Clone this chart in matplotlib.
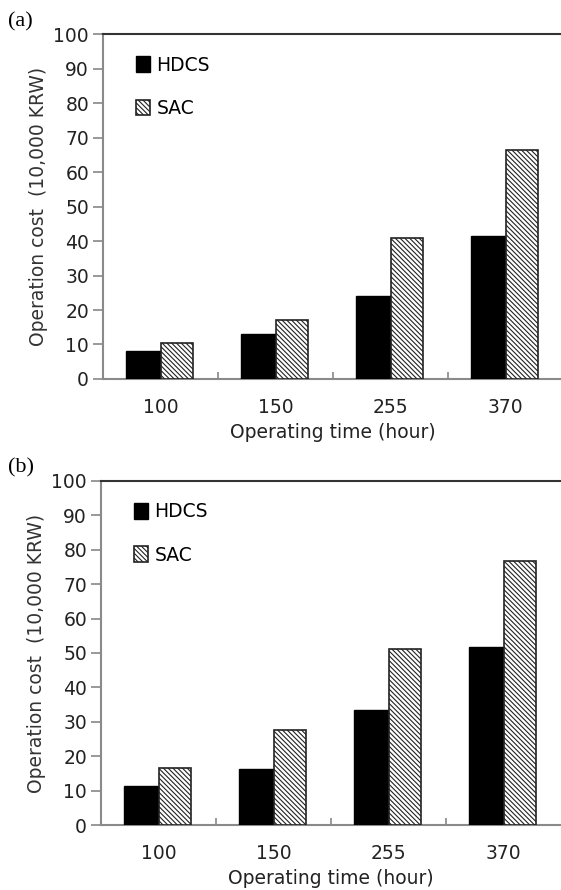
import matplotlib
matplotlib.use("Agg")
import matplotlib.pyplot as plt
import numpy as np

# data
hours = ["100", "150", "255", "370"]
hdcs_a = [8.0, 13.0, 24.0, 41.4]
sac_a = [10.5, 17.0, 41.0, 66.4]
hdcs_b = [11.3, 16.3, 33.4, 51.6]
sac_b = [16.6, 27.7, 51.2, 76.7]

plt.rcParams['font.family'] = ['DejaVu Sans']
plt.rcParams['hatch.linewidth'] = 0.8

fig = plt.figure(figsize=(5.61, 8.90), dpi=100)


def draw_panel(rect, hdcs, sac, tag, tag_y):
    ax = fig.add_axes(rect)
    x = np.arange(len(hours))
    ax.bar(x, hdcs, width=-0.30, align='edge', color='black', edgecolor='black',
           linewidth=1.0, label='HDCS', zorder=3)
    ax.bar(x, sac, width=0.28, align='edge', color='white', edgecolor='#222222',
           hatch='\\' * 7, linewidth=1.2, label='SAC', zorder=3)

    ax.set_xlim(-0.5, 3.5)
    ax.set_ylim(0, 100)
    ax.set_yticks(range(0, 101, 10))
    ax.set_xticks(x)
    ax.set_xticklabels(hours)
    ax.set_xticks([0.5, 1.5, 2.5], minor=True)
    ax.tick_params(axis='x', which='major', length=0, pad=14, labelsize=13.5,
                   labelcolor='#222222')
    ax.tick_params(axis='x', which='minor', direction='in', length=5,
                   width=1.2, color='#888888')
    ax.tick_params(axis='y', which='major', direction='out', length=7,
                   width=1.2, color='#888888', labelsize=13.5, labelcolor='#222222',
                   pad=3)

    for s in ['left', 'bottom']:
        ax.spines[s].set_color('#8a8a8a')
        ax.spines[s].set_linewidth(1.5)
    ax.spines['top'].set_color('#333333')
    ax.spines['top'].set_linewidth(1.5)
    ax.spines['right'].set_visible(False)

    ax.set_xlabel('Operating time (hour)', fontsize=13.5, color='#222222', labelpad=4)
    ax.set_ylabel('Operation cost  (10,000 KRW)', fontsize=13.5, color='#333333',
                  labelpad=4)

    ax.legend(loc='upper left', bbox_to_anchor=(0.055, 0.96), frameon=False,
              fontsize=13.5, handlelength=0.75, handleheight=0.9, handletextpad=0.35,
              labelspacing=1.3, borderaxespad=0)

    fig.text(0.014, tag_y, tag, fontsize=16,
             family='Liberation Serif', va='center', ha='left')
    return ax


draw_panel([103 / 561, 0.5742, 0.82, 0.3873], hdcs_a, sac_a, '(a)', 0.975)
draw_panel([101 / 561, 0.0730, 0.82, 0.3866], hdcs_b, sac_b, '(b)', 0.474)

fig.savefig('out.png', dpi=100)
